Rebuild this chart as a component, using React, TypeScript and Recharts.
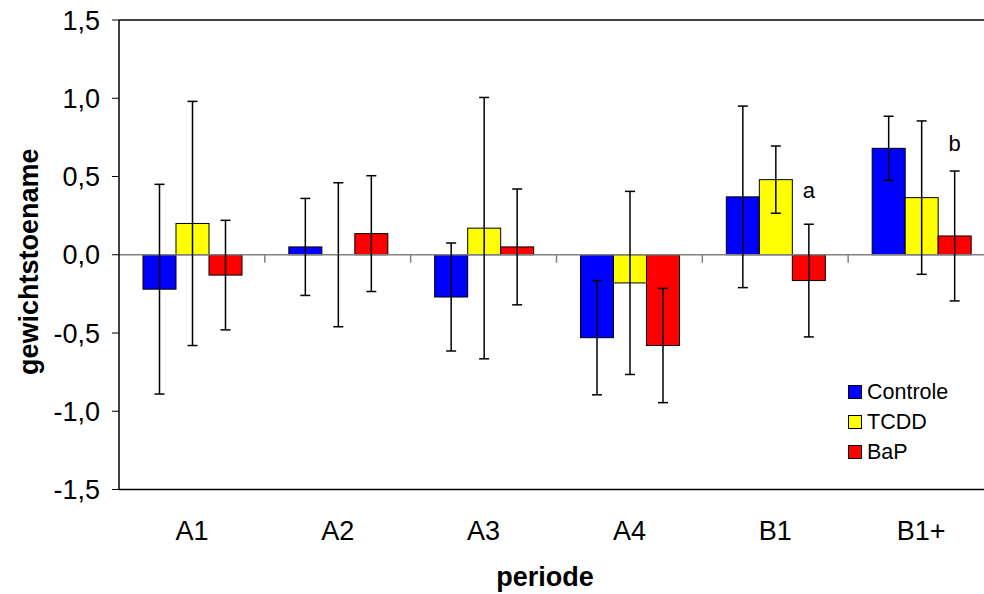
import { BarChart, Bar, XAxis, YAxis, ErrorBar, ReferenceLine, Legend } from 'recharts';

const categories = ['A1', 'A2', 'A3', 'A4', 'B1', 'B1+'];
const controle = [-0.22, 0.05, -0.27, -0.53, 0.37, 0.68];
const controleErr = [0.67, 0.31, 0.345, 0.365, 0.58, 0.205];
const tcdd = [0.2, 0, 0.17, -0.18, 0.48, 0.365];
const tcddErr = [0.78, 0.46, 0.835, 0.585, 0.215, 0.49];
const bap = [-0.13, 0.135, 0.05, -0.58, -0.165, 0.12];
const bapErr = [0.35, 0.37, 0.37, 0.365, 0.36, 0.415];
// significance letters above the BaP bars, and the height (in y units) of their baseline
const noteText = ['', '', '', '', 'a', 'b'];
const noteAt = [0, 0, 0, 0, 0.36, 0.665];
const yTicks = [-1.5, -1, -0.5, 0, 0.5, 1, 1.5];

const series = [
  { key: 'controle', name: 'Controle', color: '#0000FF' },
  { key: 'tcdd', name: 'TCDD', color: '#FFFF00' },
  { key: 'bap', name: 'BaP', color: '#FF0000' },
];

const data = categories.map((name, i) => ({
  name,
  controle: controle[i],
  controleErr: controleErr[i],
  tcdd: tcdd[i],
  tcddErr: tcddErr[i],
  bap: bap[i],
  bapErr: bapErr[i],
  note: noteText[i],
  noteAt: noteAt[i],
}));

const FONT = 'Arial, "Liberation Sans", sans-serif';
const GAP = 24;

function barShape(key: string, color: string) {
  return (p: any) => {
    const { x, y, width, height, index } = p;
    const v = p.payload?.[key] ?? 0;
    const top = Math.min(y, y + height);
    const h = Math.abs(height);
    const zeroY = v >= 0 ? top + h : top;
    const unit = v !== 0 ? h / Math.abs(v) : 0;
    const note = p.payload?.note;
    return (
      <g>
        {h > 0 && <rect x={x} y={top} width={width} height={h} fill={color} stroke="#000" strokeWidth={1} />}
        {key === 'controle' && index > 0 && (
          <line x1={x - GAP} x2={x - GAP} y1={zeroY} y2={zeroY + 8} stroke="#808080" strokeWidth={1.5} />
        )}
        {key === 'bap' && note && unit > 0 && (
          <text x={x + width / 2} y={zeroY - p.payload.noteAt * unit} textAnchor="middle" fontFamily={FONT} fontSize={22} fill="#000">
            {note}
          </text>
        )}
      </g>
    );
  };
}

const renderLegend = () => (
  <div style={{ fontFamily: FONT, fontSize: 21.5, color: '#000' }}>
    {series.map((s) => (
      <div key={s.key} style={{ display: 'flex', alignItems: 'center', height: 30 }}>
        <span style={{ width: 12, height: 12, background: s.color, border: '1px solid #000', marginRight: 5, display: 'inline-block' }} />
        <span>{s.name}</span>
      </div>
    ))}
  </div>
);

export default function App() {
  return (
    <div style={{ position: 'fixed', left: 0, top: 0, width: 984, height: 594, overflow: 'hidden', background: '#fff' }}>
      <BarChart
        width={1000}
        height={594}
        data={data}
        margin={{ top: 20, right: 6, bottom: 0, left: 0 }}
        barCategoryGap={GAP}
        barGap={0}
      >
        <XAxis
          dataKey="name"
          height={104.5}
          axisLine={{ stroke: '#000', strokeWidth: 1.5 }}
          tickLine={false}
          tickSize={0}
          tickMargin={31.5}
          tick={{ fontFamily: FONT, fontSize: 27, fill: '#000' }}
          label={{
            content: (p: any) => (
              <text x={545} y={p.viewBox.y + 96.5} textAnchor="middle" fontFamily={FONT} fontSize={27} fontWeight="bold" fill="#000">
                periode
              </text>
            ),
          }}
        />
        <YAxis
          width={119}
          domain={[-1.5, 1.5]}
          ticks={yTicks}
          interval={0}
          allowDataOverflow
          axisLine={{ stroke: '#000', strokeWidth: 1.5 }}
          tickLine={{ stroke: '#000', strokeWidth: 1 }}
          tickSize={7}
          tickMargin={12}
          tickFormatter={(v: number) => v.toFixed(1).replace('.', ',')}
          tick={{ fontFamily: FONT, fontSize: 27, fill: '#000' }}
          label={{
            content: (p: any) => {
              const cx = 29;
              const cy = p.viewBox.y + p.viewBox.height / 2 + 7;
              return (
                <text
                  x={cx}
                  y={cy}
                  transform={`rotate(-90 ${cx} ${cy})`}
                  textAnchor="middle"
                  dominantBaseline="central"
                  fontFamily={FONT}
                  fontSize={27}
                  fontWeight="bold"
                  fill="#000"
                >
                  gewichtstoename
                </text>
              );
            },
          }}
        />
        <ReferenceLine y={1.5} stroke="#000" strokeWidth={1.5} />
        <ReferenceLine y={0} stroke="#808080" strokeWidth={1.5} />
        {series.map((s) => (
          <Bar key={s.key} dataKey={s.key} name={s.name} fill={s.color} isAnimationActive={false} shape={barShape(s.key, s.color)}>
            <ErrorBar dataKey={`${s.key}Err`} width={5} stroke="#000" strokeWidth={1.5} direction="y" />
          </Bar>
        ))}
        <Legend
          layout="horizontal"
          verticalAlign="middle"
          align="center"
          content={renderLegend}
          wrapperStyle={{ position: 'absolute', left: 848, top: 377, width: 'auto', height: 'auto' }}
        />
      </BarChart>
    </div>
  );
}
